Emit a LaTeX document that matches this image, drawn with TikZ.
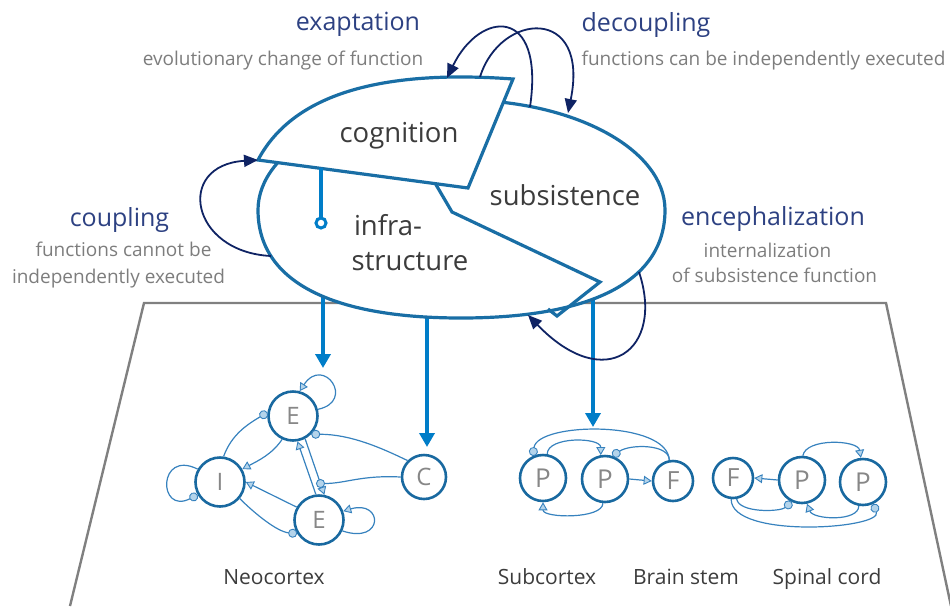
\documentclass[tikz,border=0pt]{standalone}
\usepackage{fontspec}
\setmainfont{Open Sans}
\usetikzlibrary{arrows.meta,shapes.geometric}
\definecolor{ellblue}{RGB}{25,110,165}
\definecolor{arrowblue}{RGB}{0,125,200}
\definecolor{navy}{RGB}{15,35,100}
\definecolor{titleblue}{RGB}{45,65,130}
\definecolor{subgray}{RGB}{125,125,125}
\definecolor{labeldark}{RGB}{60,60,60}
\definecolor{nodeblue}{RGB}{25,105,160}
\definecolor{edgeblue}{RGB}{55,130,190}
\definecolor{markfill}{RGB}{180,212,235}
\definecolor{nodetext}{RGB}{135,135,135}
\definecolor{trapgray}{RGB}{128,128,128}
\tikzset{
  plane/.style={draw=trapgray, line width=2.4pt},
  fnarrow/.style={draw=arrowblue, line width=4pt, -{Triangle[length=14pt,width=15pt]}},
  evo/.style={draw=navy, line width=1.8pt, -{Triangle[length=14pt,width=12pt]}},
  outline/.style={draw=ellblue, line width=3.2pt, fill=white, line join=miter},
  cutline/.style={draw=ellblue, line width=3.2pt, line join=miter},
  pin/.style={draw=arrowblue, line width=4pt},
  title/.style={font=\fontsize{25}{28}\selectfont, text=titleblue, anchor=base, inner sep=0},
  sub/.style={font=\fontsize{19}{22}\selectfont, text=subgray, anchor=base, inner sep=0},
  mainlbl/.style={font=\fontsize{27.5}{30}\selectfont, text=labeldark, anchor=base, inner sep=0},
  arealbl/.style={font=\fontsize{21}{24}\selectfont, text=labeldark, anchor=base, inner sep=0},
  neuron/.style={circle, draw=nodeblue, line width=2.6pt, fill=white, inner sep=0, text=nodetext},
  cortexn/.style={neuron, minimum size=49pt, font=\fontsize{24}{24}\selectfont},
  pn/.style={neuron, minimum size=46pt, font=\fontsize{26}{26}\selectfont},
  fn/.style={neuron, minimum size=40pt, font=\fontsize{25}{25}\selectfont},
  syn/.style={draw=edgeblue, line width=1.2pt},
  exc/.style={syn, -{Triangle[length=8pt,width=9pt,fill=markfill,line width=0.9pt]}},
  inh/.style={syn, -{Circle[length=9pt,fill=markfill,line width=0.9pt]}},
}
\begin{document}
\begin{tikzpicture}[x=1pt,y=-1pt]
\useasboundingbox (0,0) rectangle (950,606);

% plane
\coordinate (pl1) at (70,606);
\coordinate (pl2) at (144,303);
\coordinate (pl3) at (886,303);
\coordinate (pl4) at (951,606);
\draw[plane] (pl1) -- (pl2) -- (pl3) -- (pl4);

% thick arrows from the functions to the nervous system
\coordinate (s1) at (323,290); \coordinate (t1) at (323,368);
\coordinate (s2) at (427,310); \coordinate (t2) at (427,447);
\coordinate (s3) at (593,295); \coordinate (t3) at (593,427);
\draw[fnarrow] (s1) -- (t1);
\draw[fnarrow] (s2) -- (t2);
\draw[fnarrow] (s3) -- (t3);

% main body (subsistence + infrastructure)
\path[outline] (665,210) .. controls (665,280.2) and (593.6,318) .. (461,318)
   .. controls (329,318) and (258,280.2) .. (258,210)
   .. controls (258,149.2) and (348.9,100) .. (461,100)
   .. controls (573.7,100) and (665,149.2) .. (665,210) -- cycle;
% cut between subsistence and infrastructure
\coordinate (w1) at (435,183);
\coordinate (w2) at (452,212);
\coordinate (w3) at (600,282);
\coordinate (w4) at (557,316);
\coordinate (w5) at (548,309);
\draw[cutline] (w1) -- (w2) -- (w3) -- (w4) -- (w5);
% cognition piece
\coordinate (cogL) at (258,160);
\coordinate (cogT) at (513,79);
\coordinate (cogB) at (468,188);
\path[outline] (cogL) .. controls (295,90) and (390,70) .. (cogT) -- (cogB) -- cycle;
% pin
\coordinate (pinA) at (321,168);
\coordinate (pinB) at (321,218);
\draw[pin] (pinA) -- (pinB);
\draw[draw=arrowblue, line width=3pt, fill=white] (321,223) circle[radius=5pt];

% evolutionary transitions
\coordinate (exS) at (530,107); \coordinate (exT) at (447,78);
\coordinate (dcS) at (480,77);  \coordinate (dcT) at (568,113);
\coordinate (cpS) at (271,256);
\coordinate (enS) at (639,272); \coordinate (enT) at (528,315);
\draw[evo] (exS) .. controls (545,5) and (480,10) .. (exT);
\draw[evo] (dcS) .. controls (500,12) and (590,5) .. (dcT);
\draw[evo] (cpS) .. controls (190,252) and (175,165) .. (cogL);
\draw[evo] (enS) .. controls (665,350) and (605,395) .. (enT);

% labels in the body
\node[mainlbl] (lcog) at (399,142) {cognition};
\node[mainlbl] (lsub) at (565,205) {subsistence};
\node[mainlbl] (linf1) at (388,235) {infra-};
\node[mainlbl] (linf2) at (410,270) {structure};

% transition labels
\node[title] (tex) at (358,30) {exaptation};
\node[sub] (sex) at (283,65) {evolutionary change of function};
\node[title] (tdc) at (646,31) {decoupling};
\node[sub] (sdc) at (763.5,65) {functions can be independently executed};
\node[title] (tcp) at (119.5,226) {coupling};
\node[sub] (scp1) at (123.5,256) {functions cannot be};
\node[sub] (scp2) at (118.5,283) {independently executed};
\node[title] (ten) at (773,225) {encephalization};
\node[sub] (sen1) at (767.5,257) {internalization};
\node[sub] (sen2) at (774.5,282) {of subsistence function};

% area labels
\node[arealbl] (aneo) at (274,584) {Neocortex};
\node[arealbl] (asub) at (547,584) {Subcortex};
\node[arealbl] (abst) at (686,584) {Brain stem};
\node[arealbl] (aspc) at (827,584) {Spinal cord};

% ---------- neocortex ----------
\node[cortexn] (E1) at (293,416) {E};
\node[cortexn] (I) at (220,482) {I};
\node[cortexn] (E2) at (319,520) {E};
\node[cortexn, minimum size=44pt] (C) at (424,477) {C};
\coordinate (cx) at (316,483.5);
% self loops
\draw[exc] (E1.15) .. controls +(38,-8) and +(24,-36) .. (E1.75);
\draw[inh] (I.150) .. controls +(-40,-20) and +(-40,20) .. (I.210);
\draw[exc] (E2.-25) .. controls +(42,14) and +(40,-12) .. (E2.20);
% connections
\draw[inh] (I.82) .. controls +(8,-22) and +(-20,12) .. (E1.172);
\draw[exc] (E1.245) .. controls +(-10,15) and +(15,-8) .. (I.30);
\draw[exc] (E2.150) -- (I.0);
\draw[inh] (I.-40) .. controls +(15,15) and +(-20,-2) .. (E2.212);
\draw[exc] (E2.97) -- (E1.-80);
\draw[exc] (E1.-62) -- (E2.78);
\draw[inh] (C.135) .. controls +(-25,-12) and +(40,0) .. (E1.-45);
\draw[inh] (C.180) .. controls +(-40,-2) and +(30,0) .. (cx);

% ---------- subcortex / brain stem ----------
\node[pn] (P1) at (543,478) {P};
\node[pn] (P2) at (605,479) {P};
\node[fn] (F1) at (673,481) {F};
\draw[exc] (P2.east) -- (F1.west);
\draw[exc] (P1.80) .. controls +(0,-18) and +(0,-18) .. (P2.100);
\draw[inh] (F1.100) .. controls +(-2,-40) and +(5,-34) .. (P1.115);
\draw[inh] (F1.100) .. controls +(0,-16) and +(18,-12) .. (P2.72);
\draw[exc] (P2.-95) .. controls +(0,16) and +(0,16) .. (P1.-90);

% ---------- spinal cord ----------
\node[fn] (F2) at (733,478) {F};
\node[pn] (P3) at (802,480) {P};
\node[pn] (P4) at (863,482) {P};
\draw[exc] (P3.west) -- (F2.east);
\draw[exc] (P3.88) .. controls +(3,-18) and +(-3,-18) .. (P4.95);
\draw[inh] (F2.-80) .. controls +(2,14) and +(-12,10) .. (P3.-115);
\draw[inh] (F2.-95) .. controls +(0,40) and +(10,25) .. (P4.-65);
\draw[exc] (P4.-100) .. controls +(0,16) and +(6,16) .. (P3.-78);
\end{tikzpicture}
\end{document}
